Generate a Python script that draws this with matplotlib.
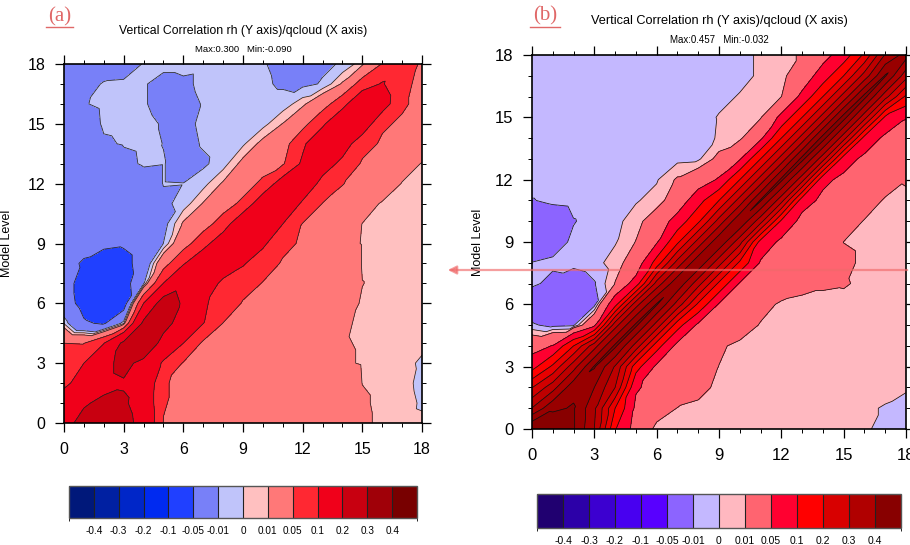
import numpy as np
import matplotlib
matplotlib.use("Agg")
import matplotlib.pyplot as plt
import matplotlib.tri as mtri
from matplotlib.colors import ListedColormap, BoundaryNorm
from matplotlib.cm import ScalarMappable
from matplotlib.patches import FancyArrowPatch
from matplotlib.lines import Line2D

plt.rcParams['font.family'] = ['Liberation Sans', 'DejaVu Sans']

# ---------------- data ----------------
model_levels = list(range(19))
major_ticks = [0, 3, 6, 9, 12, 15, 18]
cbar_levels = [-0.4, -0.3, -0.2, -0.1, -0.05, -0.01, 0, 0.01, 0.05, 0.1, 0.2, 0.3, 0.4]
cbar_labels = ['-0.4', '-0.3', '-0.2', '-0.1', '-0.05', '-0.01', '0', '0.01', '0.05', '0.1', '0.2', '0.3', '0.4']

colors_a = ['#00187a', '#0020a2', '#0026c8', '#002af0', '#2040ff', '#7880f8', '#c0c4fa',
            '#ffc0c0', '#ff7878', '#ff2832', '#f0001a', '#c80010', '#a00008', '#780000']
colors_b = ['#200070', '#2c00a8', '#3c00d0', '#4800f0', '#5800ff', '#8c64ff', '#c4b8ff',
            '#ffb8c0', '#ff6470', '#ff0030', '#ff0000', '#d80000', '#b00000', '#880000']
# panel (b) plot uses extra intermediate levels inside the red band
fill_levels_b = [-1.0, -0.4, -0.3, -0.2, -0.1, -0.05, -0.01, 0, 0.01, 0.05, 0.1, 0.15, 0.2, 0.25,
                 0.3, 0.35, 0.4, 1.0]
fill_colors_b = ['#200070', '#2c00a8', '#3c00d0', '#4800f0', '#5800ff', '#8c64ff', '#c4b8ff',
                 '#ffb8c0', '#ff6470', '#ff0030', '#ff0000', '#e80000', '#d20000', '#be0000',
                 '#aa0000', '#980000', '#880000']
line_levels_a = [-0.05, -0.01, 0, 0.01, 0.05, 0.1, 0.2]
line_levels_b = [-0.01, 0, 0.01, 0.05, 0.1, 0.15, 0.2, 0.25, 0.3, 0.35, 0.4]

# panel (a): rows are model level Y = 0..18, columns X = 0..18
a_y00 = [0.17, 0.23, 0.25, 0.24, 0.16, 0.049, 0.042, 0.040, 0.038, 0.036, 0.034, 0.032, 0.030, 0.028, 0.025, 0.013, 0.007, 0.005, 0.003]
a_y01 = [0.14, 0.19, 0.22, 0.215, 0.15, 0.052, 0.042, 0.040, 0.038, 0.036, 0.034, 0.032, 0.030, 0.028, 0.025, 0.012, 0.007, 0.006, -0.002]
a_y02 = [0.085, 0.13, 0.17, 0.19, 0.16, 0.052, 0.045, 0.042, 0.040, 0.037, 0.035, 0.033, 0.030, 0.028, 0.022, 0.0098, 0.007, 0.005, -0.004]
a_y03 = [0.07, 0.10, 0.17, 0.23, 0.17, 0.09, 0.047, 0.044, 0.042, 0.040, 0.037, 0.034, 0.030, 0.026, 0.012, 0.009, 0.007, 0.004, -0.002]
a_y04 = [0.05, 0.049, 0.098, 0.22, 0.30, 0.16, 0.10, 0.042, 0.040, 0.039, 0.037, 0.035, 0.032, 0.026, 0.011, 0.009, 0.008, 0.006, 0.003]
a_y05 = [-0.001, -0.045, -0.055, -0.002, 0.22, 0.24, 0.15, 0.101, 0.049, 0.045, 0.042, 0.040, 0.036, 0.030, 0.012, 0.008, 0.007, 0.006, 0.005]
a_y06 = [-0.03, -0.065, -0.08, -0.075, 0.10, 0.25, 0.19, 0.105, 0.085, 0.046, 0.044, 0.042, 0.038, 0.032, 0.015, 0.009, 0.008, 0.007, 0.006]
a_y07 = [-0.03, -0.07, -0.09, -0.07, -0.012, 0.101, 0.17, 0.13, 0.09, 0.07, 0.048, 0.045, 0.042, 0.038, 0.030, 0.0102, 0.008, 0.007, 0.007]
a_y08 = [-0.035, -0.055, -0.075, -0.065, -0.03, 0.03, 0.095, 0.15, 0.13, 0.105, 0.07, 0.046, 0.043, 0.040, 0.030, 0.009, 0.008, 0.007, 0.007]
a_y09 = [-0.035, -0.035, -0.04, -0.045, -0.03, -0.0098, 0.03, 0.08, 0.14, 0.16, 0.11, 0.06, 0.045, 0.040, 0.018, 0.009, 0.008, 0.007, 0.007]
a_y10 = [-0.035, -0.035, -0.035, -0.035, -0.03, -0.016, 0.012, 0.03, 0.07, 0.15, 0.17, 0.101, 0.049, 0.045, 0.030, 0.0098, 0.008, 0.008, 0.007]
a_y11 = [-0.035, -0.035, -0.035, -0.033, -0.025, -0.013, -0.006, 0.011, 0.03, 0.06, 0.14, 0.16, 0.09, 0.049, 0.04, 0.02, 0.008, 0.008, 0.007]
a_y12 = [-0.035, -0.035, -0.035, -0.03, -0.02, -0.0095, -0.0098, -0.004, 0.012, 0.03, 0.06, 0.13, 0.15, 0.08, 0.051, 0.04, 0.025, 0.009, 0.007]
a_y13 = [-0.035, -0.03, -0.025, -0.015, -0.008, -0.0095, -0.015, -0.012, -0.005, 0.015, 0.03, 0.045, 0.11, 0.13, 0.085, 0.045, 0.035, 0.02, 0.009]
a_y14 = [-0.03, -0.025, -0.012, -0.009, -0.007, -0.0102, -0.014, -0.009, -0.006, -0.002, 0.015, 0.03, 0.09, 0.15, 0.13, 0.065, 0.045, 0.04, 0.025]
a_y15 = [-0.03, -0.02, -0.008, -0.007, -0.007, -0.011, -0.013, -0.008, -0.007, -0.006, -0.004, 0.0105, 0.035, 0.09, 0.16, 0.14, 0.055, 0.045, 0.035]
a_y16 = [-0.03, -0.011, -0.007, -0.007, -0.009, -0.014, -0.013, -0.0095, -0.006, -0.006, -0.006, -0.006, 0.006, 0.03, 0.08, 0.16, 0.13, 0.055, 0.04]
a_y17 = [-0.03, -0.02, -0.008, -0.007, -0.009, -0.014, -0.012, -0.008, -0.007, -0.008, -0.0085, -0.0115, -0.013, -0.009, 0.012, 0.07, 0.105, 0.06, 0.04]
a_y18 = [-0.03, -0.03, -0.025, -0.02, -0.009, -0.007, -0.007, -0.008, -0.008, -0.009, -0.0095, -0.012, -0.013, -0.012, -0.009, 0.006, 0.052, 0.07, 0.045]

# panel (b)
b_y00 = [0.457, 0.445, 0.405, 0.30, 0.105, 0.03, 0.005, 0.005, 0.005, 0.004, 0.004, 0.004, 0.003, 0.003, 0.002, 0.002, 0.001, -0.002, -0.004]
b_y01 = [0.302, 0.39, 0.405, 0.31, 0.15, 0.04, 0.02, 0.0095, 0.008, 0.007, 0.006, 0.005, 0.004, 0.004, 0.003, 0.002, 0.001, -0.0005, -0.003]
b_y02 = [0.198, 0.28, 0.385, 0.35, 0.25, 0.055, 0.035, 0.025, 0.013, 0.008, 0.007, 0.006, 0.005, 0.004, 0.004, 0.003, 0.003, 0.002, 0.001]
b_y03 = [0.08, 0.16, 0.28, 0.405, 0.295, 0.12, 0.04, 0.028, 0.018, 0.0098, 0.008, 0.007, 0.006, 0.005, 0.005, 0.004, 0.004, 0.003, 0.002]
b_y04 = [0.03, 0.052, 0.15, 0.28, 0.41, 0.28, 0.12, 0.035, 0.03, 0.012, 0.007, 0.006, 0.006, 0.005, 0.005, 0.005, 0.004, 0.004, 0.003]
b_y05 = [-0.008, -0.014, -0.012, 0.04, 0.28, 0.41, 0.28, 0.12, 0.04, 0.03, 0.018, 0.009, 0.007, 0.006, 0.006, 0.006, 0.005, 0.005, 0.004]
b_y06 = [-0.02, -0.03, -0.032, -0.015, 0.08, 0.28, 0.405, 0.28, 0.14, 0.045, 0.03, 0.015, 0.008, 0.006, 0.006, 0.007, 0.007, 0.006, 0.006]
b_y07 = [-0.008, -0.013, -0.018, -0.011, 0.0105, 0.07, 0.27, 0.39, 0.27, 0.14, 0.045, 0.03, 0.02, 0.015, 0.012, 0.011, 0.008, 0.007, 0.007]
b_y08 = [-0.0098, -0.008, -0.007, -0.004, 0.005, 0.018, 0.12, 0.27, 0.39, 0.27, 0.14, 0.045, 0.035, 0.025, 0.02, 0.014, 0.007, 0.007, 0.007]
b_y09 = [-0.02, -0.015, -0.008, -0.005, -0.001, 0.0105, 0.045, 0.14, 0.27, 0.39, 0.27, 0.08, 0.04, 0.035, 0.025, 0.0098, 0.007, 0.007, 0.007]
b_y10 = [-0.02, -0.018, -0.0105, -0.007, -0.003, 0.005, 0.02, 0.07, 0.14, 0.27, 0.395, 0.27, 0.09, 0.035, 0.035, 0.02, 0.009, 0.008, 0.008]
b_y11 = [-0.0105, -0.008, -0.007, -0.006, -0.004, -0.001, 0.004, 0.02, 0.08, 0.15, 0.27, 0.405, 0.27, 0.07, 0.04, 0.035, 0.02, 0.008, 0.009]
b_y12 = [-0.006, -0.006, -0.006, -0.005, -0.004, -0.003, -0.001, 0.012, 0.025, 0.055, 0.15, 0.27, 0.41, 0.27, 0.06, 0.04, 0.03, 0.02, 0.0105]
b_y13 = [-0.005, -0.005, -0.005, -0.005, -0.004, -0.004, -0.004, -0.003, -0.002, 0.015, 0.045, 0.15, 0.27, 0.415, 0.27, 0.07, 0.04, 0.03, 0.015]
b_y14 = [-0.005, -0.005, -0.005, -0.005, -0.005, -0.005, -0.005, -0.005, -0.004, 0.001, 0.006, 0.04, 0.15, 0.27, 0.42, 0.27, 0.08, 0.04, 0.03]
b_y15 = [-0.005, -0.005, -0.005, -0.005, -0.005, -0.005, -0.005, -0.004, -0.003, 0.0005, 0.004, 0.008, 0.06, 0.15, 0.27, 0.42, 0.27, 0.09, 0.052]
b_y16 = [-0.005, -0.005, -0.005, -0.005, -0.005, -0.005, -0.005, -0.004, -0.003, -0.002, 0.0005, 0.004, 0.0098, 0.06, 0.15, 0.27, 0.415, 0.27, 0.14]
b_y17 = [-0.005, -0.005, -0.005, -0.005, -0.005, -0.005, -0.005, -0.004, -0.004, -0.003, -0.002, 0.001, 0.005, 0.025, 0.07, 0.15, 0.27, 0.405, 0.27]
b_y18 = [-0.006, -0.006, -0.006, -0.005, -0.005, -0.005, -0.005, -0.004, -0.004, -0.003, -0.002, 0.001, 0.005, 0.012, 0.035, 0.07, 0.16, 0.305, 0.37]

title_text = 'Vertical Correlation rh (Y axis)/qcloud (X axis)'
stats_a = 'Max:0.300   Min:-0.090'
stats_b = 'Max:0.457   Min:-0.032'

A = np.array([a_y00, a_y01, a_y02, a_y03, a_y04, a_y05, a_y06, a_y07, a_y08, a_y09,
              a_y10, a_y11, a_y12, a_y13, a_y14, a_y15, a_y16, a_y17, a_y18])
B = np.array([b_y00, b_y01, b_y02, b_y03, b_y04, b_y05, b_y06, b_y07, b_y08, b_y09,
              b_y10, b_y11, b_y12, b_y13, b_y14, b_y15, b_y16, b_y17, b_y18])

# ---------------- figure ----------------
W, H = 910, 545
fig = plt.figure(figsize=(W / 100, H / 100), dpi=100)


def rect(l, t, r, b):
    return [l / W, 1 - b / H, (r - l) / W, (b - t) / H]


# triangulation over the model-level grid (cells split along the main diagonal)
n = len(model_levels)
gx, gy = np.meshgrid(model_levels, model_levels)
tris = []
for j in range(n - 1):
    for i in range(n - 1):
        p = j * n + i
        tris.append([p, p + 1, p + n + 1])
        tris.append([p, p + n + 1, p + n])
tri = mtri.Triangulation(gx.ravel(), gy.ravel(), np.array(tris))


def style_axes(ax, fs):
    ax.set_xlim(0, 18)
    ax.set_ylim(0, 18)
    ax.set_xticks(major_ticks)
    ax.set_yticks(major_ticks)
    ax.set_xticks(model_levels, minor=True)
    ax.set_yticks(model_levels, minor=True)
    ax.tick_params(which='both', direction='out', top=True, right=True, labelsize=fs, pad=7)
    ax.tick_params(which='major', length=6.5, width=0.9)
    ax.tick_params(which='minor', length=3.2, width=0.7)
    for s in ax.spines.values():
        s.set_linewidth(1.2)


fill_levels_a = [-1.0] + cbar_levels + [1.0]

# panel (a)
axa = fig.add_axes(rect(64, 64, 422, 423))
axa.tricontourf(tri, A.ravel(), levels=fill_levels_a, colors=colors_a)
axa.tricontour(tri, A.ravel(), levels=line_levels_a, colors='#222222', linewidths=0.55,
               linestyles='solid')
style_axes(axa, 11.5)
axa.set_ylabel('Model Level', fontsize=9, labelpad=10)

# panel (b)
axb = fig.add_axes(rect(532, 55, 906, 429))
axb.tricontourf(tri, B.ravel(), levels=fill_levels_b, colors=fill_colors_b)
axb.tricontour(tri, B.ravel(), levels=line_levels_b, colors='#111111', linewidths=0.55,
               linestyles='solid')
style_axes(axb, 12)
axb.set_ylabel('Model Level', fontsize=9, labelpad=8)

# titles
fig.text(243 / W, 1 - 31 / H, title_text, ha='center', va='center', fontsize=8.8)
fig.text(243 / W, 1 - 49 / H, stats_a, ha='center', va='center', fontsize=6.8)
fig.text(719 / W, 1 - 21 / H, title_text, ha='center', va='center', fontsize=9.2)
fig.text(719 / W, 1 - 40 / H, stats_b, ha='center', va='center', fontsize=7)

lab_col = '#e06868'
fig.text(59.5 / W, 1 - 17 / H, '(a)', ha='center', va='center', fontsize=15,
         family=['Liberation Serif', 'DejaVu Serif'], color=lab_col)
fig.text(545 / W, 1 - 16 / H, '(b)', ha='center', va='center', fontsize=15,
         family=['Liberation Serif', 'DejaVu Serif'], color=lab_col)
fig.add_artist(Line2D([46 / W, 73 / W], [1 - 26.5 / H, 1 - 26.5 / H], color=lab_col, lw=1.0))
fig.add_artist(Line2D([530 / W, 560 / W], [1 - 27 / H, 1 - 27 / H], color=lab_col, lw=1.0))


# colour bars
def label_bar(rect_px, cols, fs, pad):
    cax = fig.add_axes(rect(*rect_px))
    bnd = [-0.5] + cbar_levels + [0.5]
    sm = ScalarMappable(norm=BoundaryNorm(bnd, len(cols)), cmap=ListedColormap(cols))
    cb = fig.colorbar(sm, cax=cax, orientation='horizontal', boundaries=bnd,
                      spacing='uniform', ticks=cbar_levels, drawedges=True)
    cb.set_ticklabels(cbar_labels)
    cb.outline.set_edgecolor('#555555')
    cb.outline.set_linewidth(1.0)
    cb.dividers.set_color('#222222')
    cb.dividers.set_linewidth(0.8)
    cax.tick_params(length=0, labelsize=fs, pad=pad)
    return cb


label_bar((69, 486, 417, 518), colors_a, 7.2, 6)
label_bar((537, 494, 901, 528), colors_b, 7.5, 6)

# pink pointer arrow
arrow = FancyArrowPatch((910 / W, 1 - 270 / H), (445 / W, 1 - 270 / H),
                        transform=fig.transFigure, arrowstyle='-|>,head_length=5,head_width=2.5',
                        color='#f06a6a', alpha=0.65, lw=1.6, mutation_scale=1)
fig.add_artist(arrow)

fig.savefig('out.png', dpi=100)
